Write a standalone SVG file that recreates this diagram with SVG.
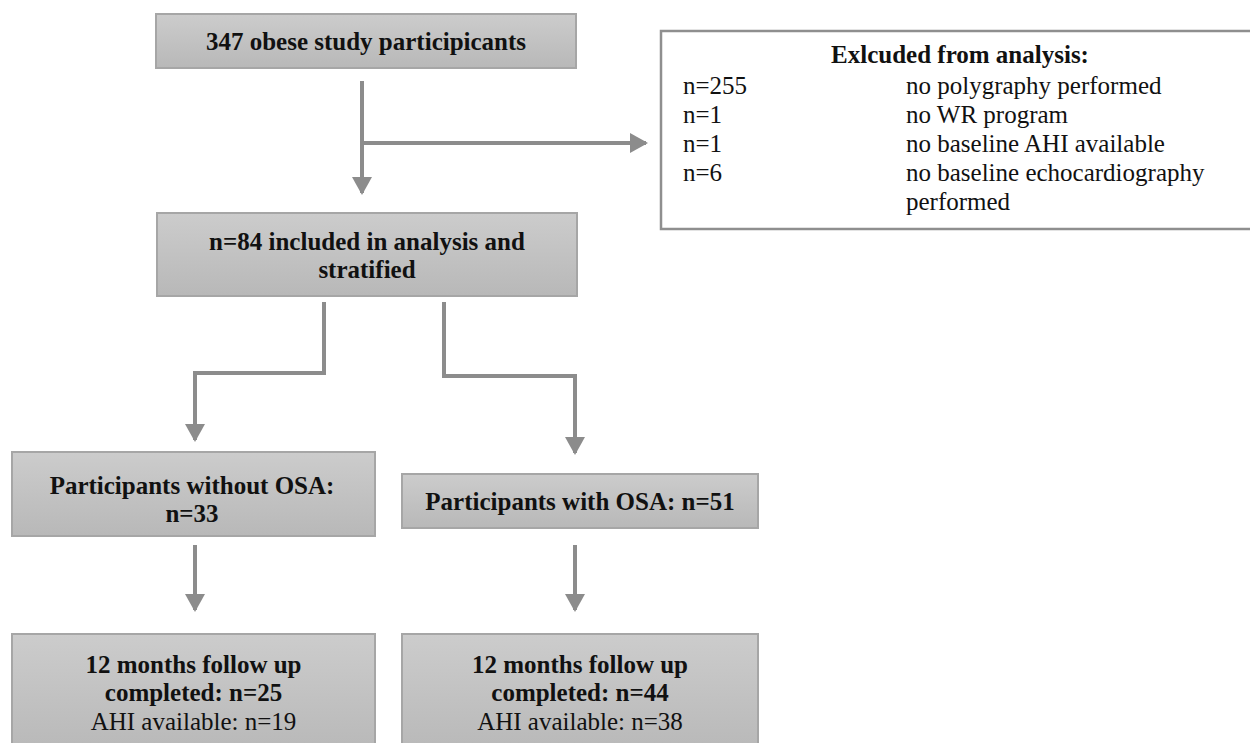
<svg xmlns="http://www.w3.org/2000/svg" width="1250" height="743" viewBox="0 0 1250 743">
<defs>
<linearGradient id="g" x1="0" y1="0" x2="0" y2="1">
<stop offset="0" stop-color="#cccccc"/>
<stop offset="1" stop-color="#b8b8b8"/>
</linearGradient>
<marker id="ah" viewBox="0 0 18 20" refX="16" refY="10" markerWidth="18" markerHeight="20" markerUnits="userSpaceOnUse" orient="auto">
<path d="M0,0 L18,10 L0,20 Z" fill="#8c8c8c"/>
</marker>
</defs>
<style>
.box{fill:url(#g);stroke:#a6a6a6;stroke-width:2}
.ex{fill:#ffffff;stroke:#8f8f8f;stroke-width:2.5}
.b{font-family:"Liberation Serif","Times New Roman",serif;font-weight:bold;font-size:25px;fill:#111;text-anchor:middle}
.r{font-family:"Liberation Serif","Times New Roman",serif;font-size:25px;fill:#111}
.rc{font-family:"Liberation Serif","Times New Roman",serif;font-size:25px;fill:#111;text-anchor:middle}
.c{fill:none;stroke:#8c8c8c;stroke-width:4}
</style>
<rect width="1250" height="743" fill="#ffffff"/>
<g id="connectors">
<line class="c" x1="362" y1="81" x2="362" y2="193" marker-end="url(#ah)"/>
<line class="c" x1="362" y1="143" x2="646" y2="143" marker-end="url(#ah)"/>
<polyline class="c" points="324,302 324,373 195,373 195,440" marker-end="url(#ah)"/>
<polyline class="c" points="444,302 444,376 575,376 575,453" marker-end="url(#ah)"/>
<line class="c" x1="195" y1="545" x2="195" y2="610" marker-end="url(#ah)"/>
<line class="c" x1="575" y1="545" x2="575" y2="610" marker-end="url(#ah)"/>
</g>
<g id="n1">
<rect class="box" x="156" y="14" width="420" height="54"/>
<text class="b" x="366" y="50">347 obese study participicants</text>
</g>
<g id="excluded">
<rect class="ex" x="661" y="31" width="600" height="198"/>
<text class="b" x="960" y="63">Exlcuded from analysis:</text>
<text class="r" x="683" y="94">n=255</text>
<text class="r" x="906" y="94">no polygraphy performed</text>
<text class="r" x="683" y="123">n=1</text>
<text class="r" x="906" y="123">no WR program</text>
<text class="r" x="683" y="152">n=1</text>
<text class="r" x="906" y="152">no baseline AHI available</text>
<text class="r" x="683" y="181">n=6</text>
<text class="r" x="906" y="181">no baseline echocardiography</text>
<text class="r" x="906" y="210">performed</text>
</g>
<g id="n2">
<rect class="box" x="157" y="213" width="420" height="83"/>
<text class="b" x="367" y="250">n=84 included in analysis and</text>
<text class="b" x="367" y="278">stratified</text>
</g>
<g id="n3">
<rect class="box" x="12" y="452" width="363" height="84"/>
<text class="b" x="192" y="494">Participants without OSA:</text>
<text class="b" x="192" y="522">n=33</text>
</g>
<g id="n4">
<rect class="box" x="402" y="474" width="356" height="54"/>
<text class="b" x="580" y="510">Participants with OSA: n=51</text>
</g>
<g id="n5">
<rect class="box" x="12" y="634" width="363" height="120"/>
<text class="b" x="193.5" y="673">12 months follow up</text>
<text class="b" x="193.5" y="701">completed: n=25</text>
<text class="rc" x="193.5" y="730">AHI available: n=19</text>
</g>
<g id="n6">
<rect class="box" x="402" y="634" width="356" height="120"/>
<text class="b" x="580" y="673">12 months follow up</text>
<text class="b" x="580" y="701">completed: n=44</text>
<text class="rc" x="580" y="730">AHI available: n=38</text>
</g>
</svg>
